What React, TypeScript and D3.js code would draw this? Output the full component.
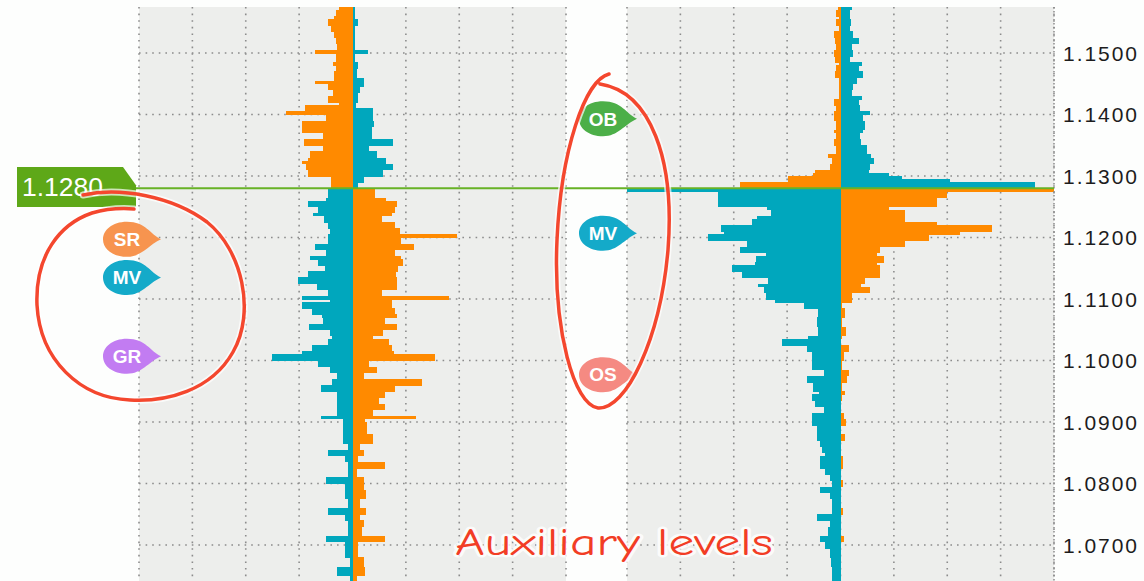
import React from 'react';
import * as d3 from 'd3';

const W = 1144;
const H = 581;
const CURRENT_PRICE = 1.128;
const TOP_PRICE = 1.1575;
const BIN = 0.0005;
const ROWS = 187;

const ORANGE = '#ff8a00';
const TEAL = '#00a7bd';

const yTicks = [1.15, 1.14, 1.13, 1.12, 1.11, 1.1, 1.09, 1.08, 1.07];

// price levels (bin tops), from the highest to the lowest
const priceLevels = d3.range(ROWS).map((i) => +(TOP_PRICE - BIN * i).toFixed(4));

// Left profile: volume drawn to the left of the centre line / to the right
const leftPanelLeftSide = [
  26, 31, 31, 34, 45, 45, 40, 40, 35, 35, 31, 31, 29, 29, 70, 31, 31, 31, 36, 31,
  31, 34, 34, 34, 70, 46, 46, 36, 36, 46, 46, 26, 89, 89, 125, 50, 50, 95, 95, 95,
  95, 55, 55, 90, 90, 56, 56, 79, 79, 84, 95, 88, 88, 84, 84, 40, 40, 40, 40,
  45, 45, 45, 50, 84, 84, 65, 65, 74, 54, 54, 45, 45, 42, 42, 45, 46, 46, 70, 70,
  50, 50, 79, 64, 64, 51, 51, 83, 83, 103, 103, 67, 67, 45, 45, 95,
  42, 95, 95, 76, 76, 58, 56, 56, 81, 81, 42, 42, 39, 45, 45, 76, 76, 94, 150, 150,
  64, 64, 42, 42, 29, 29, 39, 39, 59, 59, 29, 29, 29, 29, 29, 29, 29, 29, 59, 17,
  18, 18, 18, 18, 18, 17, 17, 8, 8, 45, 45, 14, 14, 8, 8, 8, 8, 8, 50, 50,
  14, 14, 14, 14, 14, 8, 8, 8, 45, 45, 14, 14, 8, 8, 8, 8, 8, 50, 50, 14,
  14, 14, 14, 14, 4, 4, 4, 29, 29, 29, 4, 4,
];
const leftPanelRightSide = [
  5, 5, 5, 4, 10, 10, 5, 5, 4, 4, 4, 4, 4, 5, 29, 5, 5, 5, 10, 10,
  8, 8, 8, 21, 21, 21, 14, 14, 10, 10, 10, 6, 6, 38, 38, 39, 39, 41, 41, 36,
  36, 36, 36, 75, 75, 31, 31, 46, 46, 63, 63, 75, 75, 58, 58, 21, 21, 11, 11,
  43, 43, 43, 63, 84, 84, 80, 80, 74, 55, 55, 80, 80, 89, 89, 196, 91, 91, 116, 116,
  80, 80, 91, 94, 94, 85, 85, 82, 82, 83, 83, 83, 83, 55, 55, 180,
  74, 74, 74, 80, 80, 84, 60, 60, 84, 84, 58, 58, 39, 68, 68, 74, 74, 77, 155, 155,
  30, 30, 46, 46, 21, 21, 130, 130, 80, 80, 61, 61, 49, 49, 60, 60, 39, 39, 119, 24,
  27, 27, 27, 27, 39, 39, 39, 14, 14, 21, 21, 11, 11, 60, 60, 8, 8, 8, 21, 21,
  21, 21, 25, 25, 25, 14, 14, 14, 25, 25, 14, 14, 21, 21, 18, 18, 18, 60, 60, 11,
  11, 11, 11, 11, 21, 21, 21, 24, 24, 24, 8, 8,
];

// Right profile
const rightPanelLeftSide = [
  5, 9, 9, 3, 9, 9, 3, 3, 13, 13, 10, 10, 9, 9, 13, 13, 10, 10, 3, 9,
  9, 10, 10, 3, 3, 3, 3, 3, 3, 3, 13, 13, 9, 9, 13, 13, 13, 9, 9, 9,
  13, 9, 9, 13, 13, 9, 9, 9, 24, 16, 16, 19, 19, 48, 51, 98, 98, 189, 189,
  400, 230, 230, 230, 229, 229, 138, 130, 130, 157, 166, 166, 224, 224, 218, 249, 249, 176, 176, 189,
  189, 140, 159, 159, 160, 204, 204, 184, 184, 135, 135, 154, 144, 144, 140, 140,
  123, 69, 69, 43, 43, 43, 44, 44, 44, 43, 43, 43, 60, 109, 109, 63, 63, 54, 54, 54,
  54, 54, 54, 30, 30, 63, 63, 51, 51, 51, 41, 54, 54, 48, 48, 30, 30, 54, 54, 54,
  54, 44, 44, 44, 44, 44, 38, 38, 35, 35, 29, 38, 38, 38, 38, 29, 29, 19, 19, 16,
  16, 38, 38, 19, 19, 15, 15, 15, 15, 15, 44, 44, 19, 19, 24, 24, 24, 38, 38, 29,
  29, 19, 19, 19, 18, 18, 18, 15, 15, 15, 15, 15,
];
const rightPanelRightSide = [
  21, 18, 18, 18, 20, 20, 18, 18, 24, 24, 34, 34, 21, 21, 24, 24, 18, 18, 40, 34,
  34, 43, 43, 31, 31, 24, 24, 21, 21, 40, 34, 34, 37, 37, 56, 43, 43, 46, 46, 46,
  43, 37, 37, 39, 39, 49, 49, 49, 58, 62, 62, 56, 56, 53, 90, 115, 206, 365, 365,
  400, 199, 199, 181, 181, 181, 90, 121, 121, 121, 121, 181, 284, 284, 224, 165, 165, 121, 121, 74,
  74, 68, 81, 81, 68, 74, 74, 74, 74, 46, 46, 39, 56, 56, 21, 21,
  21, 3, 3, 9, 9, 9, 3, 3, 3, 10, 10, 10, 3, 1, 1, 15, 15, 6, 6, 6,
  3, 3, 3, 15, 15, 12, 12, 3, 3, 3, 9, 3, 3, 1, 1, 1, 1, 6, 6, 10,
  10, 1, 1, 1, 9, 9, 1, 1, 1, 1, 0, 5, 5, 5, 5, 0, 0, 0, 0, 5,
  5, 0, 0, 0, 0, 0, 0, 0, 5, 5, 0, 0, 0, 0, 0, 0, 0, 6, 6, 0,
  0, 0, 0, 0, 0, 0, 0, 0, 0, 0, 0, 0,
];

const leftMarkerLabels = ['SR', 'MV', 'GR'];
const leftMarkerPrices = [1.1197, 1.1135, 1.1007];
const leftMarkerColors = ['#f7944f', '#14aac9', '#c27cf2'];
const rightMarkerLabels = ['OB', 'MV', 'OS'];
const rightMarkerPrices = [1.1393, 1.1207, 1.0977];
const rightMarkerColors = ['#4caf48', '#14aac9', '#f58a82'];

const GRID = '#8c8c8c';

function markerPath(cx: number, cy: number) {
  return `M${cx + 34},${cy} C${cx + 23},${cy - 5} ${cx + 19},${cy - 17.5} ${cx},${cy - 17.5} C${cx - 15},${cy - 17.5} ${cx - 24},${cy - 9} ${cx - 24},${cy} C${cx - 24},${cy + 10} ${cx - 14},${cy + 17.5} ${cx},${cy + 17.5} C${cx + 15},${cy + 17.5} ${cx + 21},${cy + 6} ${cx + 34},${cy} Z`;
}

export default function App() {
  const y = d3.scaleLinear().domain([1.07, 1.15]).range([545, 53]);
  const plotTop = 7;
  const plotBottom = H;

  const panels = [
    { key: 'L', x0: 139, x1: 566, left: leftPanelLeftSide, right: leftPanelRightSide },
    { key: 'R', x0: 627, x1: 1054, left: rightPanelLeftSide, right: rightPanelRightSide },
  ];

  const redPathLeft =
    'M83,195 C120,187 172,196 207,222 C242,250 256,312 233,352 C211,391 166,402 130,400 C80,398 40,360 37,305 C35,255 60,224 92,213 C106,209 121,208 134,209';
  const redPathRight =
    'M609,74 C585,80 561,150 557,240 C553,330 574,405 598,408 C626,410 660,340 668,250 C675,160 651,92 600,84';

  const yc = y(CURRENT_PRICE);

  return (
    <svg width={W} height={H} style={{ position: 'absolute', left: 0, top: 0, background: '#fdfefd' }}>
      <rect x={0} y={0} width={W} height={H} fill="#fdfefd" />
      {panels.map((p) => {
        const x = d3.scaleLinear().domain([-400, 400]).range([p.x0, p.x1]);
        const vTicks = d3.range(-400, 401, 100);
        return (
          <g key={p.key}>
            <rect x={p.x0} y={plotTop} width={p.x1 - p.x0} height={plotBottom - plotTop} fill="#edeeec" />
            {yTicks.map((t) => (
              <line key={'h' + t} x1={p.x0} x2={p.x1} y1={y(t)} y2={y(t)} stroke={GRID} strokeWidth={1.6} strokeDasharray="1.6 5" />
            ))}
            {vTicks.map((t) => (
              <line key={'v' + t} x1={x(t)} x2={x(t)} y1={plotTop} y2={plotBottom} stroke={GRID} strokeWidth={1.6} strokeDasharray="1.6 5" />
            ))}
            <g shapeRendering="crispEdges">
              {priceLevels.map((pt, i) => {
                const yTop = y(pt);
                const yBot = y(pt - BIN);
                const above = pt - BIN >= CURRENT_PRICE - 1e-9;
                const lv = Math.min(p.left[i] ?? 0, 400);
                const rv = Math.min(p.right[i] ?? 0, 400);
                return (
                  <g key={i}>
                    {lv > 0 && (
                      <rect x={x(-lv)} y={yTop} width={x(0) - x(-lv)} height={yBot - yTop + 0.5} fill={above ? ORANGE : TEAL} />
                    )}
                    {rv > 0 && (
                      <rect x={x(0)} y={yTop} width={x(rv) - x(0)} height={yBot - yTop + 0.5} fill={above ? TEAL : ORANGE} />
                    )}
                  </g>
                );
              })}
            </g>
          </g>
        );
      })}
      {/* right axis */}
      <line x1={1054} x2={1054} y1={plotTop} y2={plotBottom} stroke={GRID} strokeWidth={1.5} strokeDasharray="1.5 2.5" />
      {yTicks.map((t) => (
        <text key={'l' + t} x={1063} y={y(t)} dy="0.36em" fontFamily="Liberation Sans, Arial, sans-serif" fontSize={21} fill="#1d1d1d" textLength={74} lengthAdjust="spacing">
          {t.toFixed(4)}
        </text>
      ))}
      {/* current price line */}
      <line x1={136} x2={1054} y1={yc} y2={yc} stroke="#67b226" strokeWidth={2} />
      <path d={`M17,167 L123,167 L136,${yc - 3} L136,207 L17,207 Z`} fill="#5ea818" />
      <text x={22} y={196} fontFamily="Liberation Sans, Arial, sans-serif" fontSize={25} fill="#ffffff" textLength={81} lengthAdjust="spacingAndGlyphs">
        {CURRENT_PRICE.toFixed(4)}
      </text>
      {/* markers */}
      {leftMarkerLabels.map((lab, i) => {
        const cy = y(leftMarkerPrices[i]);
        return (
          <g key={'lm' + i}>
            <path d={markerPath(127, cy)} fill={leftMarkerColors[i]} />
            <text x={127} y={cy} dy="0.36em" textAnchor="middle" fontFamily="Liberation Sans, Arial, sans-serif" fontWeight="bold" fontSize={19} fill="#fff">{lab}</text>
          </g>
        );
      })}
      {rightMarkerLabels.map((lab, i) => {
        const cy = y(rightMarkerPrices[i]);
        return (
          <g key={'rm' + i}>
            <path d={markerPath(603, cy)} fill={rightMarkerColors[i]} />
            <text x={603} y={cy} dy="0.36em" textAnchor="middle" fontFamily="Liberation Sans, Arial, sans-serif" fontWeight="bold" fontSize={19} fill="#fff">{lab}</text>
          </g>
        );
      })}
      {/* hand-drawn annotations */}
      {[redPathLeft, redPathRight].map((d, i) => (
        <g key={'rp' + i}>
          <path d={d} fill="none" stroke="#ffffff" strokeOpacity={0.7} strokeWidth={7} strokeLinecap="round" />
          <path d={d} fill="none" stroke="#f4472e" strokeWidth={3.5} strokeLinecap="round" />
        </g>
      ))}
      <text x={455} y={555} fontFamily="'Comic Sans MS', 'Comic Neue', cursive" fontSize={38} fill="#f23d25" stroke="#ffffff" strokeWidth={5} strokeOpacity={0.8} paintOrder="stroke" textLength={318} lengthAdjust="spacingAndGlyphs">
        Auxiliary levels
      </text>
    </svg>
  );
}
